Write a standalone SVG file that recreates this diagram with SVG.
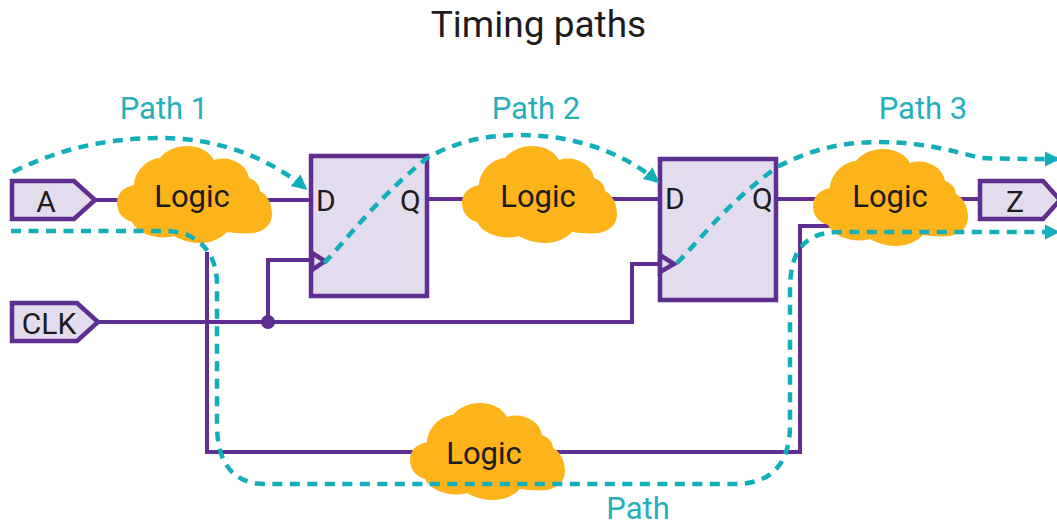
<svg xmlns="http://www.w3.org/2000/svg" width="1057" height="526" viewBox="0 0 1057 526">
<style>
text{font-family:Roboto,"Liberation Sans",sans-serif;fill:#1d1b1e;font-size:30px}
.c{text-anchor:middle}
.lab{fill:#26afbb;font-size:31px}
.logic{font-size:31px}
.w{fill:none;stroke:#5e2e91;stroke-width:4}
.box{fill:#e3dcec;stroke:#5e2e91;stroke-width:4.500}
.d{fill:none;stroke:#12aeb9;stroke-width:4.500;stroke-dasharray:10 7.500}
.cloud{fill:#fdb31a}
</style>
<defs>
<path id="cl" d="M0 57C0 47 7 41 17 39C17 28 28 13 43 12C49 4 60 0 70 0C82 0 92 5 97 14C112 9 130 18 132 32C139 34 143 40 143 45C150 48 155 58 155 68C155 78 148 85 137 87C128 88 118 87 110 86C103 93 94 97 83 97C73 97 64 94 57 90C44 94 22 90 15 76C6 73 0 67 0 57Z"/>
<marker id="ah" viewBox="0 0 10 10" refX="8" refY="5" markerWidth="3.400" markerHeight="3.600" orient="auto" markerUnits="strokeWidth"><path d="M0 0L10 5L0 10Z" fill="#12aeb9"/></marker>
</defs>
<text class="c" x="538.500" y="37" style="font-size:37px">Timing paths</text>
<g id="connectors">
<path class="w" d="M95 200H311M427 199H660M776 199H980"/>
<path class="w" d="M98 322H632V264H660"/>
<path class="w" d="M268 322V260H312"/>
<path class="w" d="M207 252V452H800V226H830"/>
<circle cx="268" cy="322" r="7" fill="#5e2e91"/>
</g>
<g id="node-a"><path class="box" d="M12 181H74L95 200L74 219H12Z"/><text class="c" x="46" y="212">A</text></g>
<g id="node-clk"><path class="box" d="M12 303H77L98 322L77 341H12Z"/><text class="c" x="49" y="334">CLK</text></g>
<g id="node-z"><path class="box" d="M980 181H1043L1060 200L1043 219H980Z"/><text class="c" x="1015" y="212">Z</text></g>
<g id="ff1"><rect class="box" x="311" y="156" width="116" height="140"/><path class="box" d="M312 253L325 261L312 270Z"/><text x="316" y="211">D</text><text x="400" y="211">Q</text></g>
<g id="ff2"><rect class="box" x="660" y="159" width="116" height="141"/><path class="box" d="M660 255L674 264L660 272Z"/><text x="665" y="209">D</text><text x="752" y="209">Q</text></g>
<g id="cloud1"><use href="#cl" class="cloud" x="117" y="146"/><text class="c logic" x="192" y="207">Logic</text></g>
<g id="cloud2"><use href="#cl" class="cloud" x="462" y="146"/><text class="c logic" x="538" y="207">Logic</text></g>
<g id="cloud3"><use href="#cl" class="cloud" x="813" y="149"/><text class="c logic" x="890" y="207">Logic</text></g>
<g id="cloud4"><use href="#cl" class="cloud" x="410" y="403"/><text class="c logic" x="484" y="464">Logic</text></g>
<g id="paths">
<path class="d" marker-end="url(#ah)" d="M13 172C60 148 110 138 160 138C215 138 265 155 305 188"/>
<path class="d" marker-end="url(#ah)" d="M324 263C347 240 375 200 427 158C455 142 485 135 520 135C570 135 620 150 657 181"/>
<path class="d" marker-end="url(#ah)" d="M677 263C700 240 725 205 777 167C810 150 840 142 880 142C920 142 950 150 980 158C1005 159 1030 159 1057 159"/>
<path class="d" marker-end="url(#ah)" d="M11 231H165C190 231 217 245 217 285V425C217 465 235 484 265 484H735C770 484 790 465 790 425V290C790 250 805 232 840 232H1057"/>
</g>
<text class="lab c" x="164" y="119">Path 1</text>
<text class="lab c" x="536" y="119">Path 2</text>
<text class="lab c" x="923" y="119">Path 3</text>
<text class="lab c" x="638" y="519">Path</text>
</svg>
